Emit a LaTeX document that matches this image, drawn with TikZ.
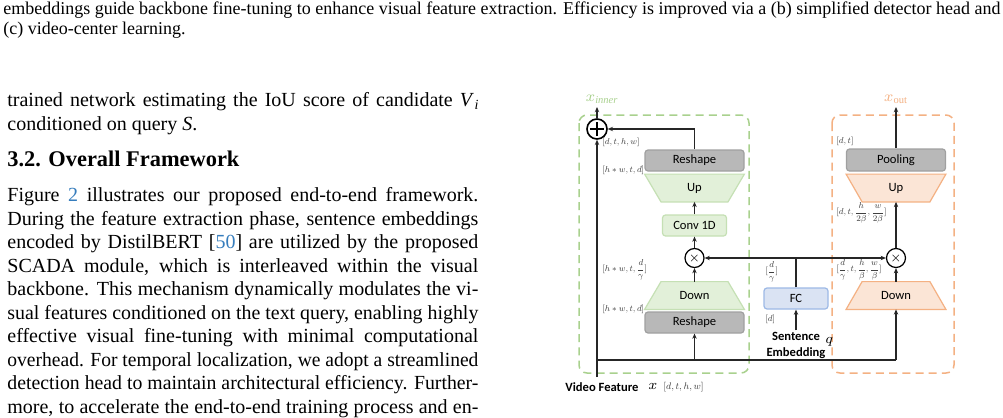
\RequirePackage{fix-cm}
\documentclass[tikz,border=0pt]{standalone}
\usepackage{fontspec}
\setmainfont{Liberation Serif}
\newfontfamily\diafont{Carlito}
\usepackage{graphicx}
\usetikzlibrary{arrows.meta,calc}
\definecolor{cvprblue}{rgb}{0.21,0.49,0.74}
\definecolor{gdash}{HTML}{A9D18E}
\definecolor{gfill}{HTML}{E2F0D9}
\definecolor{gline}{HTML}{C5E0B4}
\definecolor{odash}{HTML}{F4B183}
\definecolor{ofill}{HTML}{FBE5D6}
\definecolor{oline}{HTML}{F4B183}
\definecolor{bfill}{HTML}{DAE3F3}
\definecolor{bline}{HTML}{9DB9E6}
\definecolor{grayF}{HTML}{B8B8B8}
\definecolor{grayD}{HTML}{A0A0A0}
\definecolor{lblgray}{HTML}{404040}
\pgfdeclarelayer{back}
\pgfdeclarelayer{bg}
\pgfsetlayers{back,bg,main}
\newsavebox\jbox
\newcommand\jline[1]{\sbox\jbox{#1}\ifdim\wd\jbox>235.5pt \resizebox{235.5pt}{\height}{\usebox\jbox}\else\makebox[235.5pt][s]{#1}\fi}
\newcommand\lb[1]{\scalebox{0.5}{$#1$}}
\newcommand\dfr[2]{{\displaystyle\frac{#1}{#2}}}
\newlength\capw
\newcommand\capfont{\fontsize{9}{10}\selectfont}
\newcommand\capone{embeddings guide backbone fine-tuning to enhance visual feature extraction. Efficiency is improved via a (b) simplified detector head and}
\begin{document}
\settowidth\capw{\capfont\capone}%
\pgfmathsetmacro\capsx{498.5/\capw}%
\begin{tikzpicture}[x=0.5pt,y=-0.5pt,
  body/.style={anchor=base west, inner sep=0pt, font=\fontsize{10}{12}\selectfont},
  box/.style={rectangle, rounded corners=1.5pt, inner sep=0pt, line width=0.6pt, font=\diafont\fontsize{6.3}{7}\selectfont},
  graybox/.style={box, fill=grayF, draw=grayD, minimum width=49.5pt, minimum height=10.5pt},
  greenbox/.style={box, fill=gfill, draw=gline, minimum width=32pt, minimum height=10.5pt},
  bluebox/.style={box, fill=bfill, draw=bline, minimum width=32pt, minimum height=10.5pt},
  tnode/.style={rectangle, inner sep=0pt, minimum width=49.5pt, minimum height=13.5pt, font=\diafont\fontsize{6.3}{7}\selectfont},
  gtrap/.style={fill=gfill, draw=gline, line width=0.6pt},
  otrap/.style={fill=ofill, draw=oline, line width=0.6pt},
  opnode/.style={circle, draw=black, fill=white, line width=0.6pt, minimum size=9.5pt, inner sep=0pt, font=\fontsize{6}{6}\selectfont},
  plusnode/.style={circle, draw=black, fill=white, line width=0.8pt, minimum size=10pt, inner sep=0pt},
  conn/.style={draw=black!85, line width=0.6pt, -{Stealth[length=2.6pt,width=2.2pt]}},
  plain/.style={draw=black!85, line width=0.6pt},
  lbl/.style={anchor=west, inner sep=0pt, text=lblgray, font=\fontsize{8.6}{10}\selectfont},
  dashbox/.style={line width=0.75pt, dash pattern=on 4pt off 2.6pt, rounded corners=4pt}
]
\begin{pgfonlayer}{back}
\fill[white] (0,0) rectangle (1003,418);
\end{pgfonlayer}
\useasboundingbox (0,0) rectangle (1003,418);

% ---------- caption ----------
\node[anchor=base west, inner sep=0pt] (cap1) at (3,14) {\scalebox{\capsx}[1]{\capfont\capone}};
\node[anchor=base west, inner sep=0pt] (cap2) at (3,34) {\scalebox{\capsx}[1]{\capfont (c) video-center learning.}};

% ---------- body text ----------
\node[body] (t1) at (7,106.5) {\jline{trained network estimating the IoU score of candidate \textit{V}\kern0.2pt{\fontsize{7}{8}\selectfont\raisebox{-1.6pt}{\textit{i}}}}};
\node[body] (t2) at (7,130) {conditioned on query \textit{S}.};
\node[anchor=base west, inner sep=0pt, font=\bfseries\fontsize{11.2}{13}\selectfont] (h1) at (7,166.5) {3.2. Overall Framework};
\node[body] (t3) at (7,201.5) {\jline{Figure \textcolor{cvprblue}{2} illustrates our proposed end-to-end framework.}};
\node[body] (t4) at (7,225) {\jline{During the feature extraction phase, sentence embeddings}};
\node[body] (t5) at (7,248.5) {\jline{encoded by DistilBERT [\textcolor{cvprblue}{50}] are utilized by the proposed}};
\node[body] (t6) at (7,272) {\jline{SCADA module, which is interleaved within the visual}};
\node[body] (t7) at (7,295.5) {\jline{backbone. This mechanism dynamically modulates the vi-}};
\node[body] (t8) at (7,319) {\jline{sual features conditioned on the text query, enabling highly}};
\node[body] (t9) at (7,342.5) {\jline{effective visual fine-tuning with minimal computational}};
\node[body] (t10) at (7,366) {\jline{overhead. For temporal localization, we adopt a streamlined}};
\node[body] (t11) at (7,389.5) {\jline{detection head to maintain architectural efficiency. Further-}};
\node[body] (t12) at (7,413) {\jline{more, to accelerate the end-to-end training process and en-}};

% ---------- dashed containers ----------
\draw[dashbox, draw=gdash] (579,115) rectangle (749,373);
\draw[dashbox, draw=odash] (832,115) rectangle (954,373);

% ---------- green column ----------
\node[plusnode] (plus) at (597,129) {};
\draw[line width=1.1pt] ([xshift=-3.6pt]plus.center) -- ([xshift=3.6pt]plus.center)
      ([yshift=-3.6pt]plus.center) -- ([yshift=3.6pt]plus.center);
\node[graybox] (rtop) at (694.5,160.5) {Reshape};
\node[tnode] (gup) at (694.5,188) {Up};
\node[greenbox] (conv) at (694.5,225.5) {Conv 1D};
\node[opnode] (gtimes) at (694.5,258) {$\times$};
\node[tnode] (gdown) at (694.5,295.5) {Down};
\node[graybox] (rbot) at (694.5,322.5) {Reshape};

% ---------- orange column ----------
\node[graybox, minimum height=11pt] (pool) at (896,160) {Pooling};
\node[tnode] (oup) at (896,188) {Up};
\node[opnode] (otimes) at (896,258) {$\times$};
\node[tnode] (odown) at (896,295.5) {Down};

% ---------- text branch ----------
\node[bluebox] (fc) at (796,298.5) {FC};
\node[inner sep=0.5pt, align=center, font=\diafont\bfseries\fontsize{6.3}{8}\selectfont] (sent) at (796,345) {Sentence\\Embedding};
\node[anchor=west, inner sep=0pt, font=\fontsize{7}{8}\selectfont] (q) at (825,342) {$q$};

% ---------- trapezoids ----------
\begin{pgfonlayer}{bg}
\filldraw[gtrap] (gup.north west) -- (gup.north east) -- ([xshift=-8.2pt]gup.south east) -- ([xshift=8.2pt]gup.south west) -- cycle;
\filldraw[gtrap] (gdown.south west) -- (gdown.south east) -- ([xshift=-8.2pt]gdown.north east) -- ([xshift=8.2pt]gdown.north west) -- cycle;
\filldraw[otrap] (oup.north west) -- (oup.north east) -- ([xshift=-8pt]oup.south east) -- ([xshift=8pt]oup.south west) -- cycle;
\filldraw[otrap] (odown.south west) -- (odown.south east) -- ([xshift=-8pt]odown.north east) -- ([xshift=8pt]odown.north west) -- cycle;
\end{pgfonlayer}

% ---------- outputs ----------
\node[anchor=base, inner sep=0pt, text=gdash, font=\fontsize{7.5}{8}\selectfont] (xin) at (602,101) {$x_{\mathit{inner}}$};
\node[anchor=base, inner sep=0pt, text=odash, font=\fontsize{7.5}{8}\selectfont] (xout) at (896,101) {$x_{\mathrm{out}}$};
\coordinate (xinp) at (597,107);
\coordinate (xoutp) at (896,107);

% ---------- inputs ----------
\coordinate (vin) at (597,377);
\coordinate (b2) at (896,360);
\node[anchor=west, inner sep=0pt, font=\diafont\bfseries\fontsize{6.3}{7}\selectfont] (vf) at (565,387) {Video Feature};
\node[anchor=west, inner sep=0pt, font=\fontsize{7}{8}\selectfont] (vx) at (648,386) {$x$};
\node[lbl, font=\fontsize{9.6}{11}\selectfont] (vdim) at (663,387) {\lb{[d,t,h,w]}};

% ---------- connectors ----------
\draw[conn] (vin) -- (plus.south);
\draw[conn] (plus.north) -- (xinp);
\draw[conn] (rtop.north) |- (plus.east);
\draw[conn] (conv.north) -- (gup.south);
\draw[conn] (gtimes.north) -- (conv.south);
\draw[conn] (gdown.north) -- (gtimes.south);
\draw[plain] (vin |- b2) -- (b2);
\draw[conn] (b2) -- (odown.south);
\draw[conn] (rbot.south |- b2) -- (rbot.south);
\coordinate (j) at (fc.north |- gtimes.east);
\draw[plain] (fc.north) -- (j);
\draw[conn] (j) -- (gtimes.east);
\draw[conn] (j) -- (otimes.west);
\draw[conn] (sent.north) -- (fc.south);
\draw[conn] (odown.north) -- (otimes.south);
\draw[conn] (otimes.north) -- (oup.south);
\draw[conn] (pool.north) -- (xoutp);

% ---------- dimension labels ----------
\node[lbl] (l1) at (602,142) {\lb{[d,t,h,w]}};
\node[lbl] (l2) at (602,170) {\lb{[h\ast w,t,d]}};
\node[lbl] (l3) at (602,270) {\lb{[h\ast w,t,\dfr{d}{\gamma}]}};
\node[lbl] (l4) at (602,309) {\lb{[h\ast w,t,d]}};
\node[lbl] (l5) at (765,272) {\lb{[\dfr{d}{\gamma}]}};
\node[lbl] (l6) at (765,319) {\lb{[d]}};
\node[lbl] (l7) at (836,141) {\lb{[d,t]}};
\node[lbl] (l8) at (836,213) {\lb{[d,t,\dfr{h}{2\beta},\dfr{w}{2\beta}]}};
\node[lbl] (l9) at (836,270) {\lb{[\dfr{d}{\gamma},t,\dfr{h}{\beta},\dfr{w}{\beta}]}};
\end{tikzpicture}
\end{document}
